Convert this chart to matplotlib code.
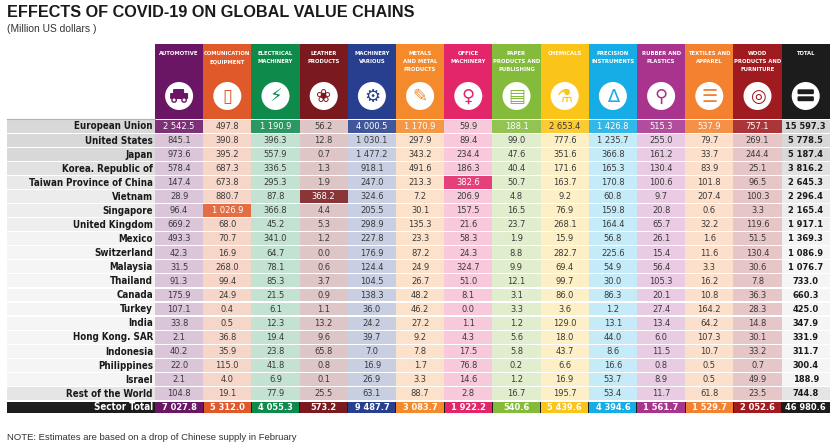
import os
import matplotlib
matplotlib.use("Agg")
import matplotlib.pyplot as plt
import matplotlib.colors as mcolors
from matplotlib import font_manager
from matplotlib.font_manager import FontProperties
from matplotlib.patches import Rectangle, Circle, FancyBboxPatch
from matplotlib.textpath import TextPath
import numpy as np

TITLE = "EFFECTS OF COVID-19 ON GLOBAL VALUE CHAINS"
SUBTITLE = "(Million US dollars )"
NOTE = "NOTE: Estimates are based on a drop of Chinese supply in February"

countries = ["European Union", "United States", "Japan", "Korea. Republic of",
             "Taiwan Province of China", "Vietnam", "Singapore", "United Kingdom",
             "Mexico", "Switzerland", "Malaysia", "Thailand", "Canada", "Turkey",
             "India", "Hong Kong. SAR", "Indonesia", "Philippines", "Israel",
             "Rest of the World"]

sectors = ["AUTOMOTIVE", "COMUNICATION\nEQUIPMENT", "ELECTRICAL\nMACHINERY",
           "LEATHER\nPRODUCTS", "MACHINERY\nVARIOUS", "METALS\nAND METAL\nPRODUCTS",
           "OFFICE\nMACHINERY", "PAPER\nPRODUCTS AND\nPUBLISHING", "CHEMICALS",
           "PRECISION\nINSTRUMENTS", "RUBBER AND\nPLASTICS", "TEXTILES AND\nAPPAREL",
           "WOOD\nPRODUCTS AND\nFURNITURE"]
sector_colors = ["#6b1565", "#e0592b", "#0e8a4b", "#7b1a1e", "#283f8f", "#f48a2c",
                 "#e3266a", "#84bb3b", "#fbc419", "#16ade6", "#a8348e", "#f48130",
                 "#9f1b1f"]
sector_icons = ["car", "\u25AF", "\u26A1", "\u2740", "\u2699", "\u270E", "\u2640",
                "\u25A4", "\u2697", "\u2206", "\u26B2", "\u2630", "\u25CE"]

automotive = [2542.5, 845.1, 973.6, 578.4, 147.4, 28.9, 96.4, 669.2, 493.3, 42.3,
              31.5, 91.3, 175.9, 107.1, 33.8, 2.1, 40.2, 22.0, 2.1, 104.8]
communication = [497.8, 390.8, 395.2, 687.3, 673.8, 880.7, 1026.9, 68.0, 70.7, 16.9,
                 268.0, 99.4, 24.9, 0.4, 0.5, 36.8, 35.9, 115.0, 4.0, 19.1]
electrical = [1190.9, 396.3, 557.9, 336.5, 295.3, 87.8, 366.8, 45.2, 341.0, 64.7,
              78.1, 85.3, 21.5, 6.1, 12.3, 19.4, 23.8, 41.8, 6.9, 77.9]
leather = [56.2, 12.8, 0.7, 1.3, 1.9, 368.2, 4.4, 5.3, 1.2, 0.0,
           0.6, 3.7, 0.9, 1.1, 13.2, 9.6, 65.8, 0.8, 0.1, 25.5]
machinery = [4000.5, 1030.1, 1477.2, 918.1, 247.0, 324.6, 205.5, 298.9, 227.8, 176.9,
             124.4, 104.5, 138.3, 36.0, 24.2, 39.7, 7.0, 16.9, 26.9, 63.1]
metals = [1170.9, 297.9, 343.2, 491.6, 213.3, 7.2, 30.1, 135.3, 23.3, 87.2,
          24.9, 26.7, 48.2, 46.2, 27.2, 9.2, 7.8, 1.7, 3.3, 88.7]
office = [59.9, 89.4, 234.4, 186.3, 382.6, 206.9, 157.5, 21.6, 58.3, 24.3,
          324.7, 51.0, 8.1, 0.0, 1.1, 4.3, 17.5, 76.8, 14.6, 2.8]
paper = [188.1, 99.0, 47.6, 40.4, 50.7, 4.8, 16.5, 23.7, 1.9, 8.8,
         9.9, 12.1, 3.1, 3.3, 1.2, 5.6, 5.8, 0.2, 1.2, 16.7]
chemicals = [2653.4, 777.6, 351.6, 171.6, 163.7, 9.2, 76.9, 268.1, 15.9, 282.7,
             69.4, 99.7, 86.0, 3.6, 129.0, 18.0, 43.7, 6.6, 16.9, 195.7]
precision = [1426.8, 1235.7, 366.8, 165.3, 170.8, 60.8, 159.8, 164.4, 56.8, 225.6,
             54.9, 30.0, 86.3, 1.2, 13.1, 44.0, 8.6, 16.6, 53.7, 53.4]
rubber = [515.3, 255.0, 161.2, 130.4, 100.6, 9.7, 20.8, 65.7, 26.1, 15.4,
          56.4, 105.3, 20.1, 27.4, 13.4, 6.0, 11.5, 0.8, 8.9, 11.7]
textiles = [537.9, 79.7, 33.7, 83.9, 101.8, 207.4, 0.6, 32.2, 1.6, 11.6,
            3.3, 16.2, 10.8, 164.2, 64.2, 107.3, 10.7, 0.5, 0.5, 61.8]
wood = [757.1, 269.1, 244.4, 25.1, 96.5, 100.3, 3.3, 119.6, 51.5, 130.4,
        30.6, 7.8, 36.3, 28.3, 14.8, 30.1, 33.2, 0.7, 49.9, 23.5]
country_total = [15597.3, 5778.5, 5187.4, 3816.2, 2645.3, 2296.4, 2165.4, 1917.1,
                 1369.3, 1086.9, 1076.7, 733.0, 660.3, 425.0, 347.9, 331.9, 311.7,
                 300.4, 188.9, 744.8]
sector_total = [7027.8, 5312.0, 4055.3, 573.2, 9487.7, 3083.7, 1922.2, 540.6,
                5439.6, 4394.6, 1561.7, 1529.7, 2052.6]
grand_total = 46980.6

columns = [automotive, communication, electrical, leather, machinery, metals, office,
           paper, chemicals, precision, rubber, textiles, wood]

DPI = 100
W, H = 834, 448


def pick_font(patterns):
    for pat in patterns:
        for f in font_manager.fontManager.ttflist:
            if os.path.basename(f.fname).startswith(pat):
                return f.fname
    return None


def make_fp(fname, family, weight):
    if fname:
        return FontProperties(fname=fname)
    return FontProperties(family=family, weight=weight)


def text_px(fp, text, size):
    probe = fp.copy()
    probe.set_size(size)
    return TextPath((0, 0), text, prop=probe).get_extents().width * DPI / 72


def fit(fp, texts, target_px, max_size):
    if isinstance(texts, str):
        texts = [texts]
    widest = max(text_px(fp, t, 10) for t in texts)
    out = fp.copy()
    out.set_size(min(10 * target_px / widest, max_size))
    return out


cond_bold = make_fp(pick_font(["LiberationSansNarrow-Bold.", "DejaVuSansCondensed-Bold.",
                               "RobotoCondensed-Bold"]), "Liberation Sans", "bold")
cond_reg = make_fp(pick_font(["LiberationSansNarrow-Regular.", "DejaVuSansCondensed.",
                              "RobotoCondensed-Regular"]), "Liberation Sans", "normal")
sans_bold = FontProperties(family=["Liberation Sans", "DejaVu Sans"], weight="bold")
sans_reg = FontProperties(family=["Liberation Sans", "DejaVu Sans"])

head_lines = [ln for s in sectors for ln in s.split("\n")]
fp_title = fit(sans_bold, TITLE, 406, 20)
fp_sub = fit(sans_reg, SUBTITLE, 88, 10)
fp_note = fit(sans_reg, NOTE, 288, 10)
fp_label = fit(cond_bold, "Taiwan Province of China", 130, 7.0)
fp_head = fit(cond_bold, head_lines, 46, 5.0)
fp_val = fit(cond_reg, "1 477.2", 40, 6.7)
fp_valb = fit(cond_bold, "15 597.3", 45, 6.7)


def fmt(v):
    return f"{v:,.1f}".replace(",", " ")


def mix(c, t):
    r = np.array(mcolors.to_rgb(c))
    return tuple(r * (1 - t) + t)


def luminance(c):
    r, g, b = mcolors.to_rgb(c)
    return 0.299 * r + 0.587 * g + 0.114 * b


fig = plt.figure(figsize=(W / DPI, H / DPI), dpi=DPI)
ax = fig.add_axes([0, 0, 1, 1])
ax.set_xlim(0, W)
ax.set_ylim(H, 0)
ax.axis("off")

left, label_r = 7, 153
col_x0, col_w = 155, 48.2
head_top, head_bot = 44, 118.6
row_top0, row_h = 119.7, 14.07
n_rows = len(countries)

ax.text(left, 12.8, TITLE, fontproperties=fp_title, color="#1a1a1a", va="center")
ax.text(left, 28.5, SUBTITLE, fontproperties=fp_sub, color="#333333", va="center")
ax.text(left, 437, NOTE, fontproperties=fp_note, color="#333333", va="center")

all_cols = columns + [country_total]
all_colors = sector_colors + ["#1c1c1c"]
all_heads = sectors + ["TOTAL"]
all_icons = sector_icons + ["equals"]

# header band with icons
for j, (head, col, icon) in enumerate(zip(all_heads, all_colors, all_icons)):
    x = col_x0 + j * col_w
    cx = x + col_w / 2
    ax.add_patch(Rectangle((x, head_top), col_w, head_bot - head_top, color=col, lw=0))
    for k, line in enumerate(head.split("\n")):
        ax.text(cx, 53.3 + k * 8.2, line, fontproperties=fp_head, color="white",
                ha="center", va="center")
    ax.add_patch(Circle((cx, 96), 14, color="white", lw=0))
    if icon == "car":
        ax.add_patch(FancyBboxPatch((cx - 8, 94), 16, 4, boxstyle="round,pad=1",
                                    color=col, lw=0))
        ax.add_patch(FancyBboxPatch((cx - 5, 90), 9, 4, boxstyle="round,pad=1",
                                    color=col, lw=0))
        ax.add_patch(Circle((cx - 5, 100), 2.2, color="white", ec=col, lw=1))
        ax.add_patch(Circle((cx + 5, 100), 2.2, color="white", ec=col, lw=1))
    elif icon == "equals":
        for yy in (90.5, 97.5):
            ax.add_patch(FancyBboxPatch((cx - 7, yy), 14, 2.5, boxstyle="round,pad=1.2",
                                        color=col, lw=0))
    else:
        ax.text(cx, 96.5, icon, family="DejaVu Sans", fontsize=13, color=col,
                ha="center", va="center")

# body rows
ax.plot([left, label_r + 2], [row_top0 - 0.4, row_top0 - 0.4], color="#b0b0b0", lw=0.8)
for i, name in enumerate(countries):
    top = row_top0 + i * row_h
    cy = top + row_h / 2 - 0.3
    if name == "Rest of the World":
        shade = 0.55
    else:
        shade = float(np.clip((country_total[i] - 1000) / 4000, 0, 1))
    grey = mix("#d6d6d6", 1 - (0.25 + 0.75 * shade) * 0.95)
    ax.add_patch(Rectangle((left, top), label_r + 2 - left, row_h - 1.2, color=grey, lw=0))
    ax.text(label_r, cy, name, fontproperties=fp_label, color="#1a1a1a",
            ha="right", va="center")
    for j, (vals, col) in enumerate(zip(all_cols, all_colors)):
        x = col_x0 + j * col_w
        v = vals[i]
        if j == len(all_cols) - 1:
            bg, tc, fp = grey, "#1a1a1a", fp_valb
            if i == 0:
                bg = mix("#c8c8c8", 0.25)
        elif i == int(np.argmax(vals)):
            bg, fp = mix(col, 0.12), fp_val
            tc = "#3a3a3a" if luminance(col) > 0.7 else "white"
        else:
            bg, tc, fp = mix(col, 0.75), "#3a3a3a", fp_val
        ax.add_patch(Rectangle((x, top), col_w, row_h - 1.2, color=bg, lw=0))
        ax.text(x + col_w / 2, cy, fmt(v), fontproperties=fp, color=tc,
                ha="center", va="center")

# sector total row
top = row_top0 + n_rows * row_h + 0.8
cy = top + (row_h - 2.5) / 2 - 0.3
ax.add_patch(Rectangle((left, top), col_x0 + len(all_cols) * col_w - left, row_h - 2.5,
                       color="#1c1c1c", lw=0))
ax.text(label_r, cy, "Sector Total", fontproperties=fp_label, color="white",
        ha="right", va="center")
for j, (v, col) in enumerate(zip(sector_total + [grand_total], all_colors)):
    x = col_x0 + j * col_w
    ax.add_patch(Rectangle((x + 0.5, top + 0.6), col_w - 1, row_h - 3.7, color=col, lw=0))
    ax.text(x + col_w / 2, cy, fmt(v), fontproperties=fp_valb, color="white",
            ha="center", va="center")

fig.savefig("out.png", dpi=DPI)
